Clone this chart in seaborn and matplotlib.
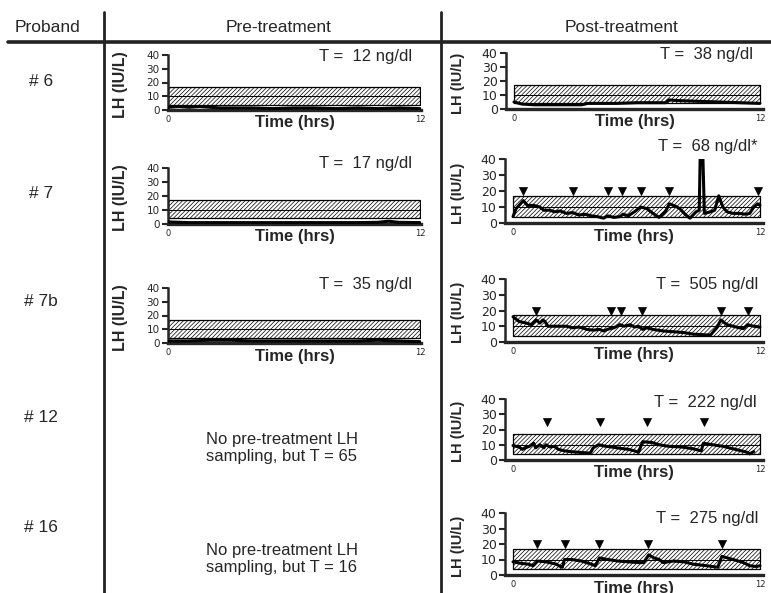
import numpy as np
import matplotlib
matplotlib.use('Agg')
import matplotlib.pyplot as plt
from matplotlib.lines import Line2D
import seaborn as sns

sns.set_style('white')
plt.rcParams['font.family'] = ['Liberation Sans', 'DejaVu Sans']
plt.rcParams['hatch.linewidth'] = 0.5

W, H = 771, 593

# normal LH range (hatched) and mid line
band_lo, band_hi, band_mid = 4, 17, 10

# ---- pre-treatment LH (IU/L) ----
pre6_t = [0, 0.5, 1, 1.5, 2, 2.5, 3, 4, 5, 6, 7, 8, 9, 10, 11, 12]
pre6_lh = [2, 2.5, 2, 2.5, 2, 1.5, 1.5, 1.5, 1, 1.5, 1.5, 1, 1.5, 1, 1.5, 1]
pre7_t = [0, 1, 2, 3, 4, 5, 6, 7, 8, 9, 10, 10.5, 11, 12]
pre7_lh = [1.5, 1, 1, 1, 1, 1, 1, 1, 1, 1, 1.2, 2, 1.2, 1]
pre7b_t = [0, 1, 2, 3, 4, 5, 6, 7, 8, 9, 10, 11, 12]
pre7b_lh = [1.5, 1.5, 2, 2, 1.5, 1.5, 1.5, 1.5, 1.5, 1.5, 2, 1.5, 1]

# ---- post-treatment LH (IU/L) ----
post6_t = [0, 0.4, 1, 2, 3, 3.3, 3.6, 5, 6, 7, 7.4, 7.55, 8, 9, 10, 11, 12]
post6_lh = [5, 3.5, 3, 3, 3, 3, 4, 4, 4.5, 4.5, 4.5, 6.5, 6, 5.5, 5, 4.5, 4]

post7_t = [0, 0.15, 0.5, 0.7, 1.0, 1.3, 1.5, 1.8, 2.0, 2.3, 2.6, 2.9, 3.2, 3.5,
           3.8, 4.1, 4.4, 4.6, 4.9, 5.2, 5.35, 5.6, 5.9, 6.2, 6.5, 6.8, 7.1,
           7.4, 7.6, 7.9, 8.1, 8.4, 8.6, 8.9, 9.05, 9.15, 9.3, 9.6, 9.8, 10.0,
           10.2, 10.4, 10.7, 11.0, 11.3, 11.5, 11.7, 11.9, 12.0]
post7_lh = [4, 9, 14, 11, 11, 10, 8, 8, 7, 7.5, 6, 6.5, 5, 5.5,
            4.5, 4, 3, 4.5, 3.5, 4, 5.5, 4.5, 7, 10, 9, 6, 3.5,
            7, 12, 10.5, 9, 5, 3, 7, 8, 80, 6, 7, 8, 17,
            10, 7, 6, 6, 5.5, 6, 10, 12, 11]
post7_pulses = [0.5, 2.9, 4.6, 5.3, 6.2, 7.6, 11.9]

post7b_t = [0, 0.3, 0.65, 0.9, 1.13, 1.3, 1.45, 1.55, 1.7, 2.0, 2.6, 2.9, 3.2,
            3.6, 3.9, 4.2, 4.4, 4.7, 4.9, 5.2, 5.4, 5.7, 5.9, 6.1, 6.3, 6.5,
            6.8, 7.3, 7.8, 8.3, 8.75, 9.4, 9.6, 9.9, 10.1, 10.4, 10.7, 11.0,
            11.2, 11.4, 11.7, 12.0]
post7b_lh = [16, 13, 12, 11, 14, 12, 14, 13, 10, 10, 10, 9, 9.5,
             8, 7.5, 8, 7, 8.5, 9, 11, 10, 11, 9.5, 10, 8, 9,
             8, 7, 6.5, 6, 5, 4.5, 4.5, 9, 14, 11, 10, 9,
             8.5, 11, 10, 9.5]
post7b_pulses = [1.1, 4.78, 5.27, 6.29, 10.13, 11.43]

post12_t = [0, 0.3, 0.45, 0.6, 0.8, 1.0, 1.1, 1.3, 1.5, 1.6, 1.8, 2.0, 2.2,
            2.5, 2.8, 3.25, 3.75, 3.9, 4.15, 4.5, 4.8, 5.3, 5.6, 5.9, 6.1,
            6.3, 6.75, 7.1, 7.55, 8.2, 8.7, 9.0, 9.15, 9.25, 9.7, 10.2,
            10.5, 10.8, 11.1, 11.4, 11.5, 11.7]
post12_lh = [9.5, 8.5, 7, 8, 9, 11, 8, 10, 8, 10, 8.5, 9, 7,
             6, 5.5, 5, 4.5, 8, 10, 9, 8.5, 7.5, 7, 6, 5,
             12, 11.5, 10, 9, 8.5, 7.5, 6.5, 6, 11, 10, 9,
             8, 7, 6, 5, 4, 5.5]
post12_pulses = [1.63, 4.23, 6.5, 9.27]

post16_t = [0, 0.4, 0.73, 0.98, 1.2, 1.6, 2.1, 2.3, 2.4, 2.5, 2.85, 3.33,
            3.8, 4.0, 4.2, 4.6, 5.1, 5.6, 6.1, 6.35, 6.6, 6.85, 7.1, 7.3,
            7.8, 8.3, 8.75, 9.4, 9.95, 10.15, 10.7, 11.2, 11.5, 11.8, 12.0]
post16_lh = [8.5, 7.5, 7, 6, 9, 8.5, 7, 5.5, 5, 10, 10, 9,
             7, 6, 11, 10, 9, 8.5, 8, 8, 13, 11, 10, 8,
             9, 8.5, 7, 6, 5, 12, 10, 8, 6, 5.5, 6]
post16_pulses = [1.17, 2.52, 4.18, 6.55, 10.18]

fig = plt.figure(figsize=(W / 100, H / 100), dpi=100)


def fx(x):
    return x / W


def fy(y):
    return 1 - y / H


def panel(box, t, lh, t_text, t_pos, pre, pulses=None, pulse_y=20):
    left, top, right, bottom = box
    ax = fig.add_axes([fx(left), fy(bottom), (right - left) / W, (bottom - top) / H])
    # hatched normal range
    ax.fill_between([0, 12], band_lo, band_hi, facecolor='white',
                    edgecolor='black', hatch='////////', linewidth=0.9, zorder=1)
    ax.hlines(band_mid, 0, 12, color='black', lw=0.7, zorder=1)
    sns.lineplot(x=t, y=lh, ax=ax, color='black', lw=2.2, estimator=None,
                 sort=False, zorder=3)
    if pulses:
        sns.scatterplot(x=pulses, y=[pulse_y] * len(pulses), ax=ax, marker='v',
                        color='black', s=34, edgecolor='black', zorder=4)
    ax.set_ylim(0, 40)
    ax.set_xlim((0, 12.05) if pre else (-0.39, 12.15))
    ax.set_yticks([0, 10, 20, 30, 40])
    ax.set_xticks([0, 12])
    ax.set_xticklabels(['0', '12'])
    ax.set_xlabel('')
    ax.set_ylabel('')
    for s in ['top', 'right']:
        ax.spines[s].set_visible(False)
    ax.spines['left'].set_linewidth(1.8)
    ax.spines['bottom'].set_linewidth(2.4)
    ax.tick_params(axis='y', left=True, length=4, width=1.5, pad=2,
                   labelsize=7.5 if pre else 9)
    ax.tick_params(axis='x', bottom=False, length=0, pad=3.5, labelsize=6)
    for lab in ax.get_yticklabels() + ax.get_xticklabels():
        lab.set_fontfamily('DejaVu Sans')
    # axis titles
    fig.text(fx(120 if pre else 458), fy((top + bottom) / 2 + 2), 'LH (IU/L)',
             rotation=90, ha='center', va='center', fontweight='bold',
             fontsize=11.5 if pre else 10.5)
    fig.text(fx((left + right) / 2), fy(bottom + 13), 'Time (hrs)',
             ha='center', va='center', fontweight='bold', fontsize=12)
    fig.text(fx(t_pos[0]), fy(t_pos[1]), t_text, ha='right', va='center',
             fontsize=12)
    return ax


# pre-treatment panels
panel((168, 55, 421, 110), pre6_t, pre6_lh, 'T =  12 ng/dl', (412, 56), True)
panel((168, 168, 421, 224), pre7_t, pre7_lh, 'T =  17 ng/dl', (412, 163), True)
panel((168, 288, 421, 343), pre7b_t, pre7b_lh, 'T =  35 ng/dl', (412, 285), True)

# post-treatment panels
panel((506, 53, 763, 109), post6_t, post6_lh, 'T =  38 ng/dl', (753, 55), False)
panel((505, 159, 763, 223), post7_t, post7_lh, 'T =  68 ng/dl*', (757, 147), False,
      post7_pulses, 20)
panel((505, 279, 763, 342), post7b_t, post7b_lh, 'T =  505 ng/dl', (758, 284), False,
      post7b_pulses, 20)
panel((505, 399, 763, 460), post12_t, post12_lh, 'T =  222 ng/dl', (757, 403), False,
      post12_pulses, 25)
panel((505, 513, 763, 575), post16_t, post16_lh, 'T =  275 ng/dl', (758, 518), False,
      post16_pulses, 20)

# table frame
fig.add_artist(Line2D([fx(8), fx(771)], [fy(42), fy(42)], color='#222222', lw=2.6))
fig.add_artist(Line2D([fx(104), fx(104)], [fy(12), fy(593)], color='#222222', lw=2))
fig.add_artist(Line2D([fx(441), fx(441)], [fy(12), fy(593)], color='#222222', lw=2))

fig.text(fx(48), fy(27), 'Proband', ha='center', va='center', fontsize=12.5)
fig.text(fx(279), fy(27), 'Pre-treatment', ha='center', va='center', fontsize=12.5)
fig.text(fx(622), fy(27), 'Post-treatment', ha='center', va='center', fontsize=12.5)

probands = ['# 6', '# 7', '# 7b', '# 12', '# 16']
proband_y = [82, 193, 302, 417, 528]
for lab, y in zip(probands, proband_y):
    fig.text(fx(41), fy(y), lab, ha='center', va='center', fontsize=12.5)

notes = ['No pre-treatment LH\nsampling, but T = 65',
         'No pre-treatment LH\nsampling, but T = 16']
note_y = [448, 559]
for txt, y in zip(notes, note_y):
    fig.text(fx(282), fy(y), txt, ha='center', va='center', fontsize=12,
             linespacing=1.1)

fig.savefig('out.png', dpi=100)
